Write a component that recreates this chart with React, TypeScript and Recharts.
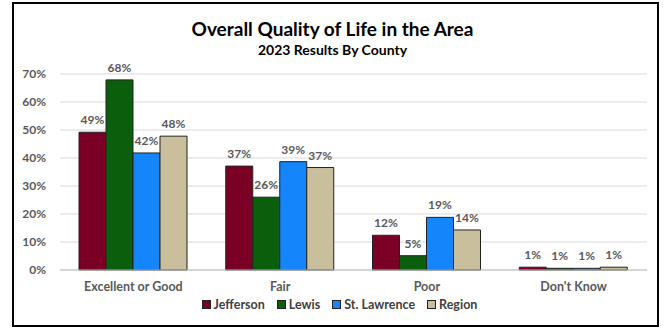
import React from "react";
import { BarChart, Bar, XAxis, YAxis, CartesianGrid, LabelList } from "recharts";

const categories = ["Excellent or Good", "Fair", "Poor", "Don't Know"];
const jefferson = [49.2, 37.1, 12.4, 1.0];
const lewis = [67.9, 26.0, 5.1, 0.6];
const stLawrence = [41.8, 38.7, 18.8, 0.6];
const region = [47.8, 36.6, 14.3, 1.0];
const yTicks = [0, 10, 20, 30, 40, 50, 60, 70];

const SERIES = [
  { key: "Jefferson", values: jefferson, color: "#7a0025" },
  { key: "Lewis", values: lewis, color: "#0b5e0b" },
  { key: "St. Lawrence", values: stLawrence, color: "#1485fb" },
  { key: "Region", values: region, color: "#c9bf9c" },
];

const FONT = "Lato, 'Open Sans', sans-serif";
const GRAY = "#595959";

const data = categories.map((name, i) => {
  const row: Record<string, string | number> = { name };
  SERIES.forEach((s) => {
    row[s.key] = s.values[i];
  });
  return row;
});

export default function App(): React.ReactElement {
  return (
    <div
      style={{
        position: "absolute",
        left: 0,
        top: 0,
        width: 665,
        height: 328,
        background: "#fff",
        fontFamily: FONT,
      }}
    >
      <div
        style={{
          position: "absolute",
          left: 12,
          top: 2,
          width: 643,
          height: 321,
          border: "2px solid #000",
        }}
      />
      <div
        style={{
          position: "absolute",
          left: 0,
          width: 665,
          top: 17,
          textAlign: "center",
          fontSize: 19,
          fontWeight: 700,
          color: "#000",
        }}
      >
        Overall Quality of Life in the Area
      </div>
      <div
        style={{
          position: "absolute",
          left: 0,
          width: 665,
          top: 41,
          textAlign: "center",
          fontSize: 14,
          fontWeight: 700,
          color: "#000",
        }}
      >
        2023 Results By County
      </div>
      <div style={{ position: "absolute", left: 0, top: 0 }}>
        <BarChart
          width={665}
          height={328}
          data={data}
          margin={{ top: 74, right: 18, bottom: 38, left: 0 }}
          barCategoryGap={19}
          barGap={0}
        >
          <CartesianGrid vertical={false} stroke="#d9d9d9" />
          <XAxis
            dataKey="name"
            height={20}
            stroke="#bfbfbf"
            tickLine={false}
            tick={{ fill: GRAY, fontSize: 12.5, fontWeight: 700, fontFamily: FONT }}
            tickMargin={6}
          />
          <YAxis
            width={60}
            domain={[0, 70]}
            ticks={yTicks}
            axisLine={false}
            tickLine={false}
            tickMargin={8}
            tickFormatter={(v: number) => `${v}%`}
            tick={{ fill: GRAY, fontSize: 12, fontWeight: 700, fontFamily: FONT }}
          />
          {SERIES.map((s) => (
            <Bar
              key={s.key}
              dataKey={s.key}
              fill={s.color}
              stroke="#222"
              strokeWidth={1}
              isAnimationActive={false}
            >
              <LabelList
                dataKey={s.key}
                position="top"
                offset={8}
                formatter={(v: number) => `${Math.round(v)}%`}
                style={{ fill: GRAY, fontSize: 12, fontWeight: 700, fontFamily: FONT }}
              />
            </Bar>
          ))}
        </BarChart>
      </div>
      <div
        style={{
          position: "absolute",
          left: 0,
          width: 665,
          top: 297,
          display: "flex",
          justifyContent: "center",
          gap: 12,
          fontSize: 12.5,
          fontWeight: 700,
          color: "#404040",
          paddingLeft: 14,
          boxSizing: "border-box",
        }}
      >
        {SERIES.map((s) => (
          <div key={s.key} style={{ display: "flex", alignItems: "center", gap: 3 }}>
            <span
              style={{
                width: 7,
                height: 7,
                background: s.color,
                border: "1px solid #222",
                display: "inline-block",
              }}
            />
            <span>{s.key}</span>
          </div>
        ))}
      </div>
    </div>
  );
}
